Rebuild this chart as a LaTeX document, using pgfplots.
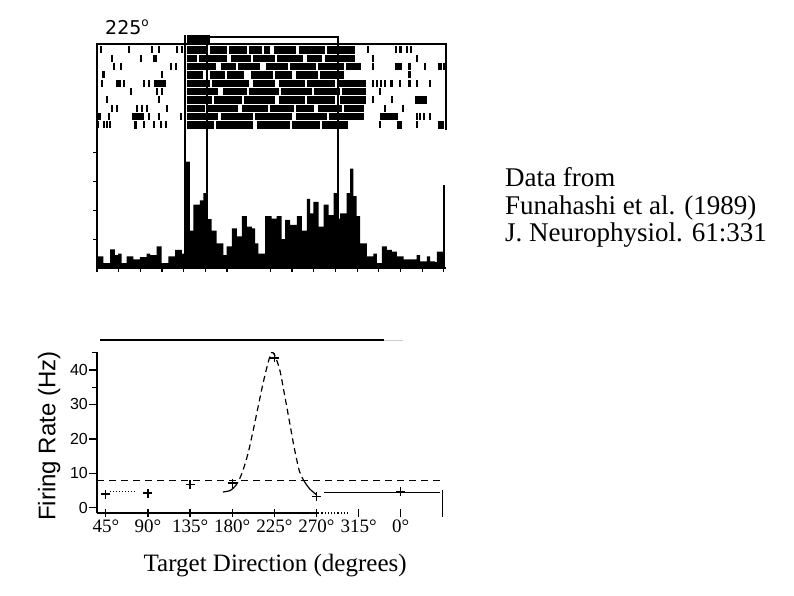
\documentclass[border=0pt]{standalone}
\usepackage{fontspec}
\setmainfont{Liberation Serif}
\newfontfamily\sansA{Liberation Sans}
\newfontfamily\dejavu{DejaVu Sans}
\usepackage{pgfplots}
\pgfplotsset{compat=1.18}
\begin{document}
\begin{tikzpicture}
\useasboundingbox (0pt,0pt) rectangle (794pt,595pt);

% ---------------- raster (spike trains) ----------------
\begin{axis}[at={(97pt,447pt)}, anchor=south west, scale only axis,
  width=349pt, height=104pt, xmin=0, xmax=16.1, ymin=0, ymax=104,
  hide axis, clip=false]
\pgfplotsset{rowbar/.style={black, line width=7.2pt, unbounded coords=jump, forget plot}}
\addplot[rowbar] coordinates {(4.15,98)(5.1,98)(5.1,nan)(5.2,98)(6.0,98)(6.0,nan)(6.1,98)(6.9,98)(6.9,nan)(7.0,98)(7.6,98)(7.6,nan)(7.7,98)(8.0,98)(8.0,nan)(8.15,98)(9.2,98)(9.2,nan)(9.3,98)(10.5,98)(10.5,nan)(10.6,98)(11.9,98)};
\addplot[rowbar] coordinates {(4.15,89.7)(4.6,89.7)(4.6,nan)(4.7,89.7)(6.0,89.7)(6.0,nan)(6.2,89.7)(7.1,89.7)(7.1,nan)(7.2,89.7)(8.2,89.7)(8.2,nan)(8.3,89.7)(9.5,89.7)(9.5,nan)(9.7,89.7)(10.4,89.7)(10.4,nan)(10.5,89.7)(11.9,89.7)};
\addplot[rowbar] coordinates {(4.15,81.3)(5.5,81.3)(5.5,nan)(5.7,81.3)(6.4,81.3)(6.4,nan)(6.5,81.3)(7.5,81.3)(7.5,nan)(7.8,81.3)(8.8,81.3)(8.8,nan)(8.9,81.3)(10.1,81.3)(10.1,nan)(10.2,81.3)(11.4,81.3)(11.4,nan)(11.5,81.3)(12.2,81.3)(12.2,nan)(13.73,81.3)(14.06,81.3)(14.06,nan)(15.71,81.3)(15.9,81.3)};
\addplot[rowbar] coordinates {(4.15,73)(4.9,73)(4.9,nan)(5.2,73)(5.9,73)(5.9,nan)(6.0,73)(6.8,73)(6.8,nan)(7.1,73)(8.1,73)(8.1,nan)(8.2,73)(9.0,73)(9.0,nan)(9.2,73)(10.2,73)(10.2,nan)(10.3,73)(11.4,73)};
\addplot[rowbar] coordinates {(0.88,64.7)(1.11,64.7)(1.11,nan)(2.63,64.7)(3.18,64.7)(3.18,nan)(4.15,64.7)(5.2,64.7)(5.2,nan)(5.3,64.7)(7.0,64.7)(7.0,nan)(7.2,64.7)(8.2,64.7)(8.2,nan)(8.4,64.7)(9.6,64.7)(9.6,nan)(9.7,64.7)(11.0,64.7)(11.0,nan)(11.1,64.7)(12.4,64.7)};
\addplot[rowbar] coordinates {(4.15,56.3)(5.6,56.3)(5.6,nan)(5.8,56.3)(6.9,56.3)(6.9,nan)(7.0,56.3)(8.4,56.3)(8.4,nan)(8.5,56.3)(9.9,56.3)(9.9,nan)(10.0,56.3)(11.2,56.3)(11.2,nan)(11.3,56.3)(12.4,56.3)};
\addplot[rowbar] coordinates {(4.15,48)(5.3,48)(5.3,nan)(5.4,48)(6.7,48)(6.7,nan)(6.8,48)(8.2,48)(8.2,nan)(8.4,48)(9.6,48)(9.6,nan)(9.7,48)(11.0,48)(11.0,nan)(11.2,48)(12.4,48)(12.4,nan)(14.65,48)(15.21,48)};
\addplot[rowbar] coordinates {(4.15,39.7)(5.0,39.7)(5.0,nan)(5.1,39.7)(6.5,39.7)(6.5,nan)(6.7,39.7)(7.9,39.7)(7.9,nan)(8.0,39.7)(9.1,39.7)(9.1,nan)(9.2,39.7)(10.0,39.7)(10.0,nan)(10.2,39.7)(11.3,39.7)(11.3,nan)(11.4,39.7)(12.3,39.7)};
\addplot[rowbar] coordinates {(1.61,31.3)(2.17,31.3)(2.17,nan)(4.15,31.3)(5.6,31.3)(5.6,nan)(5.7,31.3)(7.2,31.3)(7.2,nan)(7.3,31.3)(9.0,31.3)(9.0,nan)(9.2,31.3)(10.6,31.3)(10.6,nan)(10.7,31.3)(12.3,31.3)(12.3,nan)(13.04,31.3)(13.87,31.3)};
\addplot[rowbar] coordinates {(1.71,23)(1.84,23)(1.84,nan)(4.15,23)(5.4,23)(5.4,nan)(5.5,23)(7.2,23)(7.2,nan)(7.4,23)(8.9,23)(8.9,nan)(9.0,23)(10.3,23)(10.3,nan)(10.4,23)(11.6,23)(11.6,nan)(13.82,23)(14.06,23)(14.06,nan)(15.71,23)(16.0,23)};
% isolated spikes
\addplot[only marks, mark=|, mark size=3.5pt, mark options={line width=2.2pt}, black] coordinates {
(0.18,98)(1.47,98)(2.53,98)(2.86,98)(3.69,98)(3.92,98)(12.5,98)(13.8,98)(14.0,98)(14.3,98)(14.5,98)
(0.69,89.7)(2.03,89.7)(2.63,89.7)(2.72,89.7)(12.72,89.7)(14.75,89.7)
(0.78,81.3)(1.11,81.3)(3.41,81.3)(3.64,81.3)(12.72,81.3)(14.42,81.3)(15.12,81.3)(16.0,81.3)
(0.3,73)(3.0,73)(14.42,73)
(0.23,64.7)(1.24,64.7)(2.17,64.7)(2.40,64.7)(12.72,64.7)(12.9,64.7)(13.1,64.7)(13.3,64.7)(13.59,64.7)(13.96,64.7)(14.42,64.7)(14.75,64.7)(15.35,64.7)
(1.57,56.3)(2.76,56.3)(3.0,56.3)(13.04,56.3)
(0.46,48)(2.86,48)(12.72,48)(13.6,48)
(0.69,39.7)(0.92,39.7)(1.84,39.7)(2.07,39.7)(2.30,39.7)(3.23,39.7)(13.3,39.7)(14.1,39.7)
(0.05,31.3)(0.15,31.3)(0.55,31.3)(2.40,31.3)(2.86,31.3)(3.87,31.3)(14.75,31.3)(14.9,31.3)(15.1,31.3)(15.35,31.3)
(0.05,23)(0.32,23)(0.46,23)(0.6,23)(2.17,23)(2.63,23)(2.95,23)(3.2,23)(13.04,23)(14.75,23)};
% frame and stimulus marker
\draw[line width=1.5pt] (axis cs:0,0) -- (axis cs:0,104) -- (axis cs:16.1,104) -- (axis cs:16.1,18);
\draw[line width=1.2pt] (axis cs:4.15,111) -- (axis cs:11.15,111);
\fill[black] (axis cs:4.15,104) rectangle (axis cs:5.2,113);
\end{axis}

% ---------------- histogram ----------------
\begin{axis}[at={(97pt,327pt)}, anchor=south west, scale only axis,
  width=349pt, height=120pt, xmin=0, xmax=16.1, ymin=0, ymax=4.17,
  axis x line=bottom, axis y line=left, axis line style={-, line width=1.5pt},
  xtick={0,1,2,3,4,5,6,8,9,10,11,12,13,14,15,16}, ytick={1,2,3,4},
  xticklabels={}, yticklabels={}, tick align=outside, major tick length=4pt,
  tick style={black, line width=1.2pt}, clip=false]
\addplot[fill=black, draw=none, const plot] coordinates {
(0,0.4) (0.29,0.17) (0.6,0.65) (0.83,0.45) (0.98,0.5) (1.14,0.17) (1.37,0.4) (1.68,0.3) (1.98,0.38) (2.29,0.5) (2.45,0.45) (2.75,0.75) (2.98,0.17) (3.29,0.4) (3.6,0.63) (3.91,0.5) (4.06,3.7) (4.29,1.3) (4.45,2.2) (4.75,2.35) (4.91,2.6) (5.06,1.7) (5.29,1.3) (5.52,0.86) (5.83,0.45) (5.98,0.75) (6.22,1.38) (6.45,1.1) (6.68,1.8) (6.91,1.44) (7.14,1.38) (7.29,0.86) (7.45,0.5) (7.75,1.8) (8.06,1.72) (8.29,1.8) (8.52,1.0) (8.68,1.67) (8.91,1.5) (9.22,1.8) (9.45,1.3) (9.68,2.4) (9.83,1.9) (9.98,2.3) (10.22,1.44) (10.45,2.2) (10.68,1.84) (10.91,2.6) (11.06,1.72) (11.22,1.9) (11.52,2.6) (11.68,3.45) (11.83,2.5) (11.98,1.8) (12.14,0.86) (12.45,0.4) (12.75,0.5) (12.91,0.17) (13.14,0.75) (13.37,0.63) (13.6,0.57) (13.83,0.4) (14.14,0.3) (14.45,0.3) (14.75,0.45) (14.91,0.23) (15.22,0.4) (15.37,0.23) (15.6,0.2) (15.68,0.57) (15.98,0) (16,0)} \closedcycle;
\draw[line width=1.5pt] (axis cs:16,0) -- (axis cs:16,2.87);
\end{axis}

% event lines through raster and histogram
\draw[line width=2pt] (185pt,560pt) -- (185pt,327pt);
\draw[line width=1.3pt] (207pt,558pt) -- (207pt,327pt);
\draw[line width=1.3pt] (338pt,558pt) -- (338pt,327pt);

\node[anchor=base west, inner sep=0pt, font=\dejavu\fontsize{19}{19}\selectfont] at (105pt,560pt) {225\raisebox{8pt}{\fontsize{12}{12}\selectfont o}};

% ---------------- tuning curve ----------------
\begin{axis}[at={(97pt,82pt)}, anchor=south west, scale only axis,
  width=350pt, height=173pt, xmin=-0.21, xmax=8.1, ymin=-1.5, ymax=48.7,
  axis x line=bottom, axis y line=left, axis line style={draw=none},
  xtick={0,...,8}, xticklabels={45°,90°,135°,180°,225°,270°,315°,0°,{}},
  ytick={0,10,20,30,40}, minor ytick={35,45},
  /pgf/number format/assume math mode=true,
  xtick align=center, ytick align=outside, major tick length=8pt, minor tick length=5pt,
  tick style={black, line width=1.2pt},
  xticklabel style={font=\fontsize{19}{19}\selectfont, anchor=north, inner sep=0pt, yshift=-3pt},
  yticklabel style={font=\sansA\fontsize{16}{16}\selectfont, anchor=east, inner sep=1pt},
  xlabel={Target Direction (degrees)},
  xlabel style={font=\fontsize{25}{25}\selectfont, at={(axis description cs:0.509,-0.341)}, anchor=base, inner sep=0pt},
  ylabel={Firing Rate (Hz)},
  ylabel style={font=\sansA\fontsize{24}{24}\selectfont, at={(axis description cs:-0.137,0.445)}, anchor=center, inner sep=0pt},
  clip=false]
% axis lines drawn as in the figure
\draw[line width=1.3pt] (axis cs:-0.21,-1.5) -- (axis cs:-0.21,45.2);
\draw[line width=1.3pt] (axis cs:-0.21,-1.5) -- (axis cs:5.04,-1.5);
\draw[line width=1.2pt, dotted] (axis cs:5.04,-1.5) -- (axis cs:5.75,-1.5);
\draw[line width=1.3pt] (axis cs:8,-1.5) -- (axis cs:8,5.2);
% top bar
\addplot[black, line width=1.3pt] coordinates {(-0.14,48.7) (6.6,48.7)};
\addplot[gray!40, line width=1pt] coordinates {(6.6,48.7) (7.05,48.7)};
% spontaneous level
\addplot[black, line width=1pt, dash pattern=on 7pt off 5pt] coordinates {(-0.21,7.8) (8.05,7.8)};
% dotted segment near 45 deg
\addplot[black, line width=1pt, dotted] coordinates {(0.1,4.6) (0.74,4.6)};
% fitted tuning curve
\addplot[black, line width=1.2pt, smooth] coordinates {(2.78,4.6)(2.95,5.0)(3.05,6.0)};
\addplot[black, line width=1.2pt, smooth, dash pattern=on 6pt off 4pt] coordinates {(3.05,6.0)(3.14,7.5)(3.26,11)(3.38,16)(3.49,22)(3.61,29)(3.73,36)(3.85,42)(3.93,45)(4.01,44.3)(4.13,40)(4.24,33)(4.36,25)(4.48,17)(4.6,10.5)(4.72,7.5)};
\addplot[black, line width=1.2pt, smooth] coordinates {(4.72,7.5)(4.84,5.5)(5.0,3.8)};
% level beyond 270 deg
\addplot[black, line width=1.3pt] coordinates {(5.19,4.35) (7.93,4.35)};
% measured responses
\addplot[only marks, mark=+, mark size=4.5pt, mark options={line width=1.3pt}, black] coordinates {(0,4.0)(1,4.3)(2,6.7)(3,7.2)(4,43.5)(5,3.2)(7,4.6)};
\end{axis}

\node[anchor=base west, inner sep=0pt, font=\fontsize{27}{27}\selectfont] at (505pt,408pt) {Data from};
\node[anchor=base west, inner sep=0pt, font=\fontsize{27}{27}\selectfont] at (505pt,380.5pt) {Funahashi et al. (1989)};
\node[anchor=base west, inner sep=0pt, font=\fontsize{27}{27}\selectfont] at (505pt,353pt) {J. Neurophysiol. 61:331};
\end{tikzpicture}
\end{document}
